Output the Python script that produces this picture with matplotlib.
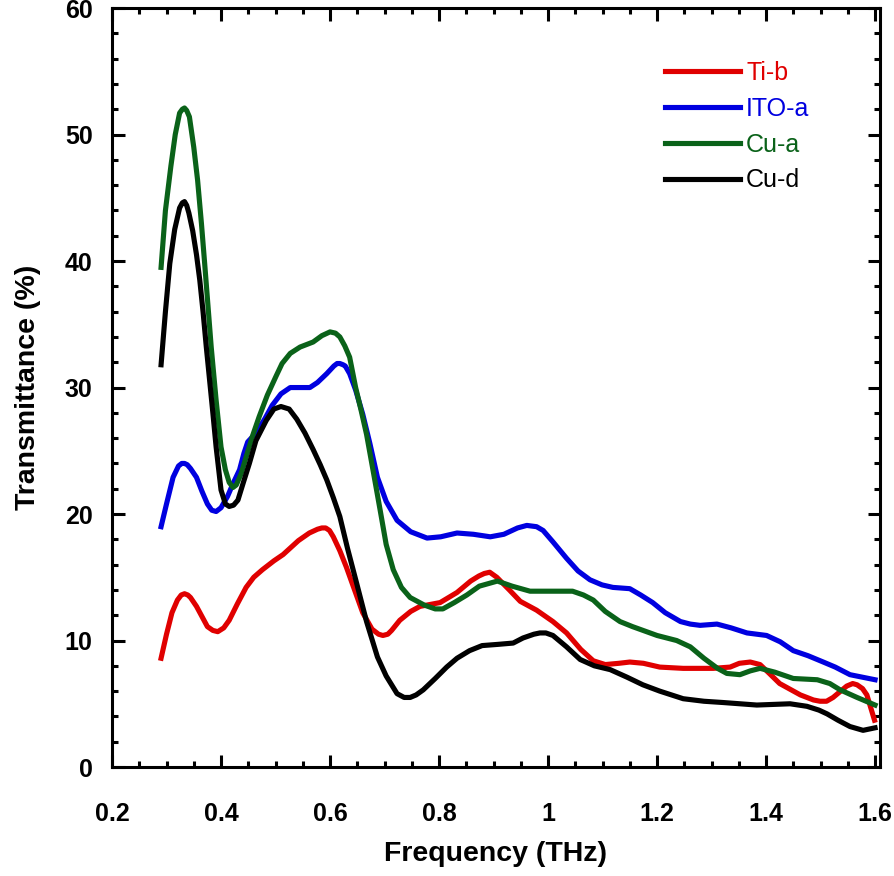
import matplotlib
matplotlib.use('Agg')
import matplotlib.pyplot as plt
from matplotlib.ticker import MultipleLocator, FuncFormatter

plt.rcParams['font.family'] = ['Liberation Sans', 'DejaVu Sans']

# Ti-b (red)
ti_b_f = [0.290, 0.300, 0.310, 0.320, 0.327, 0.333, 0.339, 0.344, 0.355, 0.365, 0.375, 0.385,
          0.394, 0.405, 0.415, 0.430, 0.446, 0.460, 0.476, 0.497, 0.514, 0.542,
          0.562, 0.577, 0.585, 0.592, 0.599, 0.606, 0.618, 0.630, 0.645, 0.660, 0.677, 0.689, 0.697,
          0.706, 0.713, 0.728, 0.748, 0.765, 0.802, 0.833, 0.858, 0.873, 0.883, 0.893, 0.906,
          0.929, 0.949, 0.979, 1.009, 1.034, 1.060, 1.083, 1.105, 1.130, 1.150,
          1.175, 1.205, 1.248, 1.303, 1.334, 1.351, 1.371, 1.389, 1.406, 1.425,
          1.463, 1.487, 1.499, 1.511, 1.523, 1.548, 1.559, 1.567, 1.577, 1.585, 1.592, 1.599]
ti_b_t = [8.6, 10.5, 12.2, 13.2, 13.6, 13.7, 13.6, 13.4, 12.7, 11.9, 11.1, 10.8,
          10.7, 11.0, 11.6, 12.9, 14.2, 15.0, 15.6, 16.3, 16.8, 17.9,
          18.5, 18.8, 18.9, 18.9, 18.7, 18.2, 17.1, 15.8, 14.0, 12.2, 10.9, 10.5, 10.4,
          10.5, 10.8, 11.6, 12.3, 12.7, 13.0, 13.8, 14.7, 15.1, 15.3, 15.4, 15.0,
          14.0, 13.1, 12.4, 11.5, 10.6, 9.3, 8.4, 8.1, 8.2, 8.3,
          8.2, 7.9, 7.8, 7.8, 7.9, 8.2, 8.3, 8.1, 7.4, 6.6,
          5.7, 5.3, 5.2, 5.2, 5.5, 6.4, 6.6, 6.5, 6.2, 5.7, 4.7, 3.7]

# ITO-a (blue)
ito_a_f = [0.290, 0.300, 0.312, 0.322, 0.328, 0.333, 0.338, 0.344, 0.355, 0.365, 0.375, 0.383,
           0.391, 0.400, 0.412, 0.423, 0.434, 0.442, 0.449, 0.464, 0.480, 0.494,
           0.510, 0.527, 0.542, 0.563, 0.577, 0.594, 0.607, 0.613, 0.618, 0.624, 0.628, 0.636, 0.647,
           0.660, 0.673, 0.687, 0.703, 0.723, 0.748, 0.778, 0.803, 0.833, 0.863,
           0.894, 0.919, 0.944, 0.961, 0.979, 0.991, 1.009, 1.034, 1.055, 1.077,
           1.099, 1.119, 1.150, 1.170, 1.192, 1.215, 1.243, 1.261, 1.279, 1.310,
           1.336, 1.365, 1.401, 1.426, 1.450, 1.477, 1.505, 1.527, 1.554, 1.577,
           1.600]
ito_a_t = [19.0, 20.8, 22.9, 23.8, 24.0, 24.0, 23.9, 23.6, 22.9, 21.8, 20.8, 20.3,
           20.2, 20.5, 21.4, 22.5, 23.5, 24.8, 25.7, 26.4, 27.5, 28.6,
           29.5, 30.0, 30.0, 30.0, 30.4, 31.1, 31.7, 31.9, 31.9, 31.8, 31.7, 31.1, 29.8,
           27.9, 25.6, 22.9, 21.0, 19.5, 18.6, 18.1, 18.2, 18.5, 18.4,
           18.2, 18.4, 18.9, 19.1, 19.0, 18.7, 17.8, 16.5, 15.5, 14.8,
           14.4, 14.2, 14.1, 13.6, 13.0, 12.2, 11.5, 11.3, 11.2, 11.3,
           11.0, 10.6, 10.4, 9.9, 9.2, 8.8, 8.3, 7.9, 7.3, 7.1,
           6.9]

# Cu-a (green)
cu_a_f = [0.290, 0.298, 0.308, 0.316, 0.324, 0.329, 0.333, 0.337, 0.342, 0.350, 0.357, 0.364,
          0.370, 0.376, 0.382, 0.391, 0.400, 0.408, 0.415, 0.422, 0.428, 0.437,
          0.446, 0.458, 0.470, 0.485, 0.501, 0.512, 0.527, 0.545, 0.569, 0.585,
          0.600, 0.610, 0.618, 0.627, 0.636, 0.647, 0.657, 0.667, 0.680, 0.692,
          0.703, 0.716, 0.731, 0.747, 0.773, 0.793, 0.807, 0.828, 0.851, 0.874,
          0.907, 0.934, 0.967, 1.004, 1.045, 1.065, 1.083, 1.105, 1.132, 1.155,
          1.200, 1.236, 1.261, 1.286, 1.311, 1.328, 1.352, 1.371, 1.389, 1.416,
          1.450, 1.494, 1.517, 1.536, 1.567, 1.600]
cu_a_t = [39.5, 44.0, 47.5, 50.0, 51.7, 52.0, 52.1, 51.9, 51.4, 49.0, 46.4, 43.0,
          39.8, 36.5, 33.2, 29.0, 25.3, 23.5, 22.5, 22.1, 22.3, 23.2,
          24.5, 26.2, 27.7, 29.4, 30.9, 31.9, 32.7, 33.2, 33.6, 34.1,
          34.4, 34.3, 34.0, 33.3, 32.4, 30.0, 28.2, 26.3, 23.2, 20.3,
          17.6, 15.6, 14.2, 13.4, 12.8, 12.5, 12.5, 13.0, 13.6, 14.3,
          14.7, 14.3, 13.9, 13.9, 13.9, 13.6, 13.2, 12.3, 11.5, 11.1,
          10.4, 10.0, 9.5, 8.6, 7.8, 7.4, 7.3, 7.6, 7.8, 7.5,
          7.0, 6.9, 6.6, 6.1, 5.5, 4.9]

# Cu-d (black)
cu_d_f = [0.290, 0.298, 0.306, 0.315, 0.324, 0.329, 0.333, 0.337, 0.341, 0.348, 0.355, 0.361,
          0.367, 0.373, 0.379, 0.385, 0.391, 0.400, 0.408, 0.415, 0.423, 0.431,
          0.441, 0.452, 0.464, 0.483, 0.497, 0.510, 0.525, 0.539, 0.554, 0.569,
          0.582, 0.594, 0.606, 0.618, 0.632, 0.649, 0.667, 0.687, 0.703, 0.723,
          0.736, 0.747, 0.758, 0.771, 0.793, 0.814, 0.833, 0.856, 0.879, 0.909, 0.936, 0.954,
          0.974, 0.985, 0.996, 1.009, 1.034, 1.059, 1.085, 1.114, 1.145, 1.174, 1.205, 1.248,
          1.286, 1.321, 1.383, 1.444, 1.475, 1.497, 1.512, 1.532, 1.554, 1.578,
          1.600]
cu_d_t = [31.8, 36.0, 39.8, 42.5, 44.2, 44.6, 44.7, 44.4, 43.8, 42.4, 40.5, 38.5,
          36.0, 33.2, 30.6, 28.0, 25.3, 21.9, 20.8, 20.6, 20.7, 21.1,
          22.5, 24.0, 25.8, 27.4, 28.3, 28.5, 28.3, 27.5, 26.4, 25.1,
          23.9, 22.7, 21.3, 19.8, 17.3, 14.5, 11.5, 8.7, 7.2, 5.8,
          5.5, 5.5, 5.7, 6.1, 7.0, 7.9, 8.6, 9.2, 9.6, 9.7, 9.8, 10.2,
          10.5, 10.6, 10.6, 10.4, 9.5, 8.5, 8.0, 7.7, 7.1, 6.5, 6.0, 5.4,
          5.2, 5.1, 4.9, 5.0, 4.8, 4.5, 4.2, 3.7, 3.2, 2.9,
          3.1]

fig = plt.figure(figsize=(8.94, 8.76), dpi=100)
ax = fig.add_axes([0.1253, 0.1244, 0.859, 0.8664])

lw = 3.7
ax.plot(ti_b_f, ti_b_t, color='#E00000', lw=lw, label='Ti-b')
ax.plot(ito_a_f, ito_a_t, color='#0000E0', lw=lw, label='ITO-a')
ax.plot(cu_a_f, cu_a_t, color='#0A6219', lw=lw, label='Cu-a')
ax.plot(cu_d_f, cu_d_t, color='black', lw=lw, label='Cu-d')

# axis runs a little past 1.6 in the original
ax.set_xlim(0.2, 1.609)
ax.set_ylim(0, 60)
ax.xaxis.set_major_locator(MultipleLocator(0.2))
ax.xaxis.set_minor_locator(MultipleLocator(0.05))
ax.yaxis.set_major_locator(MultipleLocator(10))
ax.yaxis.set_minor_locator(MultipleLocator(2))
ax.xaxis.set_major_formatter(FuncFormatter(lambda v, p: '%g' % round(v, 2)))

for s in ax.spines.values():
    s.set_linewidth(2.2)
ax.tick_params(which='both', direction='in', top=True, right=True, width=2.2)
ax.tick_params(which='major', length=9)
ax.tick_params(which='minor', length=4.5)
ax.tick_params(axis='x', which='major', pad=25, labelsize=18)
ax.tick_params(axis='y', which='major', pad=14, labelsize=18)
for lab in ax.get_xticklabels() + ax.get_yticklabels():
    lab.set_fontweight('bold')

ax.set_xlabel('Frequency (THz)', fontsize=20.5, fontweight='bold', labelpad=11)
ax.set_ylabel('Transmittance (%)', fontsize=20.5, fontweight='bold', labelpad=17)

leg = ax.legend(loc='upper left', bbox_to_anchor=(0.72, 0.93), frameon=False,
                fontsize=18, handlelength=3.0, handletextpad=0.25,
                labelspacing=0.47, borderpad=0, borderaxespad=0,
                labelcolor='linecolor')

fig.savefig('out.png', dpi=100)
